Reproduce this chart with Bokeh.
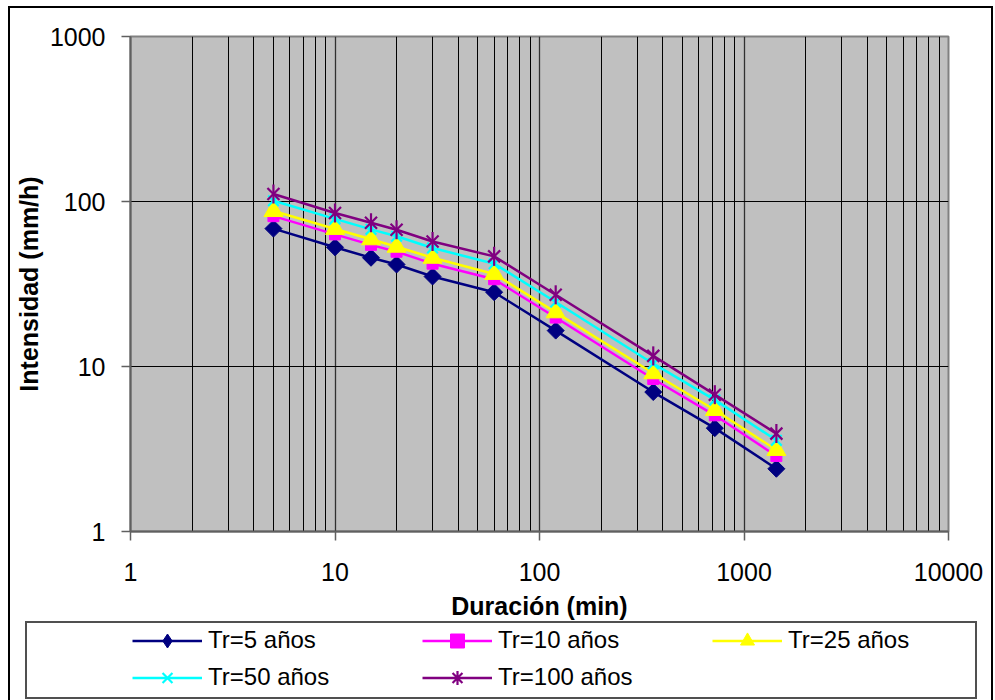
import math

from bokeh.plotting import figure
from bokeh.layouts import column
from bokeh.models import (Range1d, FixedTicker, CustomJSTickFormatter,
                          Legend, LegendItem)
from bokeh.embed import file_html
from bokeh.resources import INLINE

# Curvas IDF: duración (min) vs intensidad (mm/h) por periodo de retorno
duracion = [5, 10, 15, 20, 30, 60, 120, 360, 720, 1440]
tr5 = [68.5, 52.8, 45.6, 41.5, 35.1, 28.2, 16.5, 7.0, 4.23, 2.40]
tr10 = [81.5, 63.2, 54.6, 49.6, 42.0, 33.8, 19.8, 8.4, 5.06, 2.87]
tr25 = [87.5, 68.2, 59.0, 53.2, 45.6, 36.4, 21.3, 9.1, 5.45, 3.12]
tr50 = [101.0, 78.5, 67.8, 61.6, 52.3, 42.0, 24.6, 10.4, 6.28, 3.57]
tr100 = [111.0, 85.2, 74.3, 67.4, 57.2, 46.5, 27.2, 11.6, 6.75, 3.92]

etiquetas = ["Tr=5 años", "Tr=10 años", "Tr=25 años", "Tr=50 años", "Tr=100 años"]
colores = ["#000080", "#FF00FF", "#FFFF00", "#00FFFF", "#800080"]

x_ticks = [1, 10, 100, 1000, 10000]
x_minor = [m * d for d in [1, 10, 100, 1000] for m in range(2, 10)]
y_ticks = [1, 10, 100, 1000]

FONT = "Liberation Sans"

p = figure(width=995, height=622, x_axis_type="log", y_axis_type="log",
           x_range=Range1d(1, 10000), y_range=Range1d(1, 1000),
           output_backend="svg", toolbar_location=None,
           min_border_left=130, min_border_right=47,
           min_border_top=36, min_border_bottom=91)

p.background_fill_color = "#C0C0C0"
p.border_fill_alpha = 0
p.outline_line_color = "#808080"
p.outline_line_width = 2

# grid: every minor decade line vertically, only decades horizontally
p.xgrid.grid_line_color = "#303030"
p.xgrid.grid_line_width = 1.3
p.xgrid.minor_grid_line_color = "black"
p.xgrid.minor_grid_line_width = 1
p.ygrid.grid_line_color = "black"
p.ygrid.grid_line_width = 1
p.ygrid.minor_grid_line_color = None

fmt = CustomJSTickFormatter(code="return String(Math.round(tick));")
p.xaxis.ticker = FixedTicker(ticks=x_ticks, minor_ticks=x_minor)
p.yaxis.ticker = FixedTicker(ticks=y_ticks, minor_ticks=[])
for ax in (p.xaxis[0], p.yaxis[0]):
    ax.formatter = fmt
    ax.axis_line_color = "#606060"
    ax.axis_line_width = 2
    ax.major_tick_line_color = "#606060"
    ax.major_tick_line_width = 1.5
    ax.major_tick_in = 0
    ax.major_tick_out = 9
    ax.minor_tick_line_color = None
    ax.major_label_text_font = FONT
    ax.major_label_text_font_size = "25px"
    ax.major_label_text_color = "black"
    ax.axis_label_text_font = FONT
    ax.axis_label_text_font_size = "25px"
    ax.axis_label_text_font_style = "bold"
    ax.axis_label_text_color = "black"

p.xaxis.axis_label = "Duración (min)"
p.yaxis.axis_label = "Intensidad (mm/h)"
p.xaxis.major_label_standoff = 22
p.yaxis.major_label_standoff = 16
p.xaxis.axis_label_standoff = 8
p.yaxis.axis_label_standoff = 4


def draw_series(fig, xs, ys, i, col, for_legend=False):
    """Line plus the series marker; returns the renderers.

    Legend swatches ignore marker angles, so the legend copies use
    shapes that already point the right way.
    """
    rs = [fig.line(xs, ys, line_color=col, line_width=2.5)]
    if i == 0:
        if for_legend:
            rs.append(fig.scatter(xs, ys, marker="diamond", size=14,
                                  fill_color=col, line_color=col))
        else:
            rs.append(fig.scatter(xs, ys, marker="square", angle=math.pi / 4,
                                  size=12, fill_color=col, line_color=col))
    elif i == 1:
        rs.append(fig.scatter(xs, ys, marker="square", size=11,
                              fill_color=col, line_color=col))
    elif i == 2:
        rs.append(fig.scatter(xs, ys, marker="triangle", size=19,
                              fill_color=col, line_color=col))
    elif i == 3:
        rs.append(fig.scatter(xs, ys, marker="x", size=15,
                              line_color=col, line_width=2.2))
    else:
        if for_legend:
            rs.append(fig.scatter(xs, ys, marker="asterisk", size=17,
                                  line_color=col, line_width=2.2))
        else:
            rs.append(fig.scatter(xs, ys, marker="x", size=17,
                                  line_color=col, line_width=2.2))
            rs.append(fig.scatter(xs, ys, marker="dash", angle=math.pi / 2,
                                  size=19, line_color=col, line_width=2.2))
    return rs


series = [tr5, tr10, tr25, tr50, tr100]
for i, (vals, col) in enumerate(zip(series, colores)):
    draw_series(p, duracion, vals, i, col)

# legend strip under the chart; its own series copies stay outside the view
leg_fig = figure(width=995, height=78, output_backend="svg",
                 toolbar_location=None, x_axis_location=None,
                 y_axis_location=None, x_range=Range1d(0, 1),
                 y_range=Range1d(0, 1), min_border_left=130,
                 min_border_right=47, min_border_top=0, min_border_bottom=0)
leg_fig.grid.visible = False
leg_fig.background_fill_alpha = 0
leg_fig.border_fill_alpha = 0
leg_fig.outline_line_color = None

items = []
for i, (vals, lab, col) in enumerate(zip(series, etiquetas, colores)):
    rs = draw_series(leg_fig, duracion, vals, i, col, for_legend=True)
    items.append(LegendItem(label=lab, renderers=rs))


def legend_row(row_items, label_width, spacing, offset_y):
    """One horizontal row of legend entries."""
    return Legend(items=row_items, location=(2, offset_y),
                  orientation="horizontal", glyph_width=70, glyph_height=35,
                  label_height=25, label_width=label_width, label_standoff=6,
                  spacing=spacing, padding=0, margin=0,
                  border_line_color=None, background_fill_alpha=0,
                  label_text_font=FONT, label_text_font_size="24px",
                  label_text_color="black")


leg_fig.add_layout(legend_row(items[:3], 126, 88, 42.5))
leg_fig.add_layout(legend_row(items[3:], 136, 78, 5.5))

# chart border and legend box: thin CSS rules painted behind both canvases
rules = [
    ("#000000", "2px 700px", "8px 6px"),      # chart border, left
    ("#000000", "985px 2px", "8px 6px"),      # chart border, top
    ("#000000", "2px 700px", "991px 6px"),    # chart border, right
    ("#505050", "951px 2px", "26px 621px"),   # legend box, top
    ("#505050", "951px 2px", "26px 697px"),   # legend box, bottom
    ("#505050", "2px 78px", "25px 621px"),    # legend box, left
    ("#505050", "2px 78px", "975px 621px"),   # legend box, right
]
layout = column(p, leg_fig, spacing=0, styles={
    "background-color": "white",
    "background-image": ", ".join(f"linear-gradient({c}, {c})" for c, _, _ in rules),
    "background-size": ", ".join(s for _, s, _ in rules),
    "background-position": ", ".join(pos for _, _, pos in rules),
    "background-repeat": "no-repeat",
})

open("out.html", "w").write(file_html(layout, INLINE))
